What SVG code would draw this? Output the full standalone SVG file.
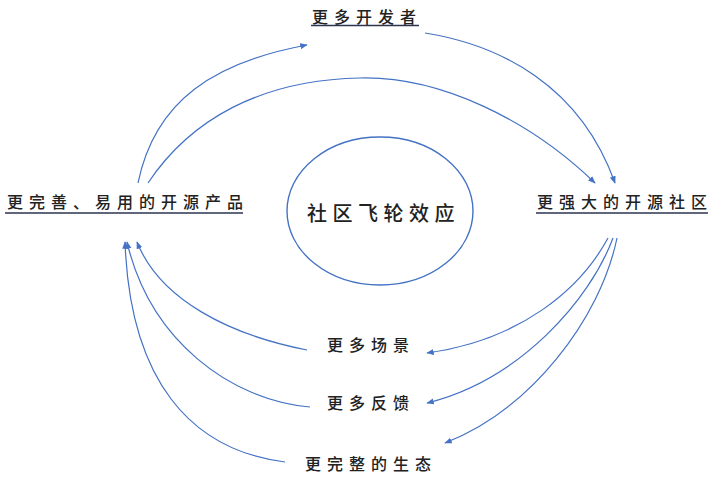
<svg xmlns="http://www.w3.org/2000/svg" width="714" height="486" viewBox="0 0 714 486">
<defs>
<style>
.t{font-family:"Noto Sans CJK SC","Noto Sans",sans-serif;font-size:16px;font-weight:500;fill:#222;letter-spacing:6px}
.c{font-size:20px;letter-spacing:5.5px}
.u{stroke:#2b3550;stroke-width:1.3;fill:none}
.e{stroke:#4472C4;stroke-width:1.4;fill:#fff}
.a{stroke:#4472C4;stroke-width:1.2;fill:none;marker-end:url(#ah)}
</style>
<marker id="ah" viewBox="0 0 10 10" refX="9" refY="5" markerWidth="7.5" markerHeight="7.5" markerUnits="userSpaceOnUse" orient="auto">
<path d="M0,1 L10,5 L0,9 z" fill="#4472C4"/>
</marker>
</defs>
<rect width="714" height="486" fill="#fff"/>
<g id="connectors">
<path class="a" d="M138,183 C155,100 215,62 307,45"/>
<path class="a" d="M148,183 C190,120 260,80 360,78 C440,76 530,120 595,183"/>
<path class="a" d="M425,33 C500,45 580,85 615,183"/>
<path class="a" d="M608,238 C580,290 520,340 427,353"/>
<path class="a" d="M613,238 C590,300 520,380 427,403"/>
<path class="a" d="M617,238 C600,320 530,410 445,443"/>
<path class="a" d="M307,350 C230,335 160,300 137,242"/>
<path class="a" d="M310,407 C230,400 150,340 127,242"/>
<path class="a" d="M285,462 C190,450 130,380 125,242"/>
</g>
<g id="node-center">
<ellipse class="e" cx="380" cy="211" rx="93" ry="74"/>
<text class="t c" x="307" y="221">社区飞轮效应</text>
</g>
<g id="node-top">
<text class="t" x="312" y="23">更多开发者</text>
<line class="u" x1="311" y1="25.5" x2="419" y2="25.5"/>
</g>
<g id="node-left">
<text class="t" x="7" y="208">更完善、易用的开源产品</text>
<line class="u" x1="5" y1="213" x2="243" y2="213"/>
</g>
<g id="node-right">
<text class="t" x="537" y="208">更强大的开源社区</text>
<line class="u" x1="536" y1="213" x2="708" y2="213"/>
</g>
<g id="node-scene">
<text class="t" x="327" y="351">更多场景</text>
</g>
<g id="node-feedback">
<text class="t" x="327" y="409">更多反馈</text>
</g>
<g id="node-eco">
<text class="t" x="305" y="470">更完整的生态</text>
</g>
</svg>
